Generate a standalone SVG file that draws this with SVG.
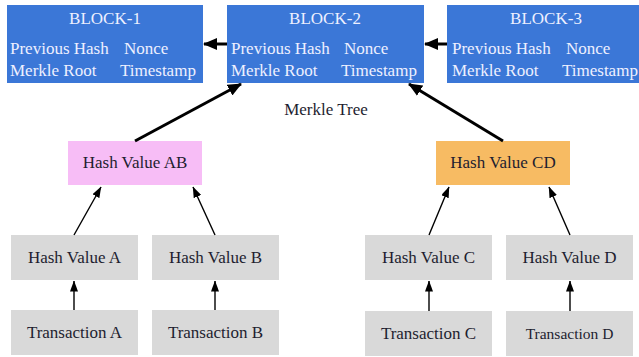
<svg xmlns="http://www.w3.org/2000/svg" width="639" height="357" viewBox="0 0 639 357">
<defs>
<style>
.blk{fill:#3b77d7}
.bt{font-family:"Liberation Serif","Times New Roman",serif;font-size:17px;fill:#eef0ff}
.t{font-family:"Liberation Serif","Times New Roman",serif;font-size:17px;fill:#1e1e30}
.g{fill:#d9d9d9}
.thick{stroke:#000;stroke-width:3;fill:none}
.thin{stroke:#000;stroke-width:1.4;fill:none}
</style>
<marker id="ah" markerUnits="userSpaceOnUse" markerWidth="14" markerHeight="12" refX="13" refY="6" orient="auto">
<path d="M0,0 L14,6 L0,12 Z" fill="#000"/>
</marker>
<marker id="as" markerUnits="userSpaceOnUse" markerWidth="11" markerHeight="8" refX="10.5" refY="4" orient="auto">
<path d="M0,0 L11,4 L0,8 Z" fill="#000"/>
</marker>
</defs>
<rect width="639" height="357" fill="#fff"/>
<g id="block1">
<rect class="blk" x="7" y="5" width="196" height="78"/>
<text class="bt" x="105" y="24" text-anchor="middle">BLOCK-1</text>
<text class="bt" x="10" y="54">Previous Hash</text>
<text class="bt" x="124" y="54">Nonce</text>
<text class="bt" x="10" y="76">Merkle Root</text>
<text class="bt" x="120" y="76">Timestamp</text>
</g>
<g id="block2">
<rect class="blk" x="227" y="5" width="197" height="78"/>
<text class="bt" x="325" y="24" text-anchor="middle">BLOCK-2</text>
<text class="bt" x="231" y="54">Previous Hash</text>
<text class="bt" x="344" y="54">Nonce</text>
<text class="bt" x="231" y="76">Merkle Root</text>
<text class="bt" x="341" y="76">Timestamp</text>
</g>
<g id="block3">
<rect class="blk" x="447" y="5" width="197" height="78"/>
<text class="bt" x="546" y="24" text-anchor="middle">BLOCK-3</text>
<text class="bt" x="452" y="54">Previous Hash</text>
<text class="bt" x="566" y="54">Nonce</text>
<text class="bt" x="452" y="76">Merkle Root</text>
<text class="bt" x="562" y="76">Timestamp</text>
</g>
<text id="merkle-label" class="t" x="326" y="115" text-anchor="middle">Merkle Tree</text>
<g id="hashAB">
<rect x="68" y="141" width="134" height="44" fill="#f7bdf6"/>
<text class="t" x="135" y="168" text-anchor="middle">Hash Value AB</text>
</g>
<g id="hashCD">
<rect x="436" y="141" width="134" height="44" fill="#f7bb63"/>
<text class="t" x="503" y="168" text-anchor="middle">Hash Value CD</text>
</g>
<g id="hashA">
<rect class="g" x="11" y="235" width="127" height="45"/>
<text class="t" x="74.5" y="263" text-anchor="middle">Hash Value A</text>
</g>
<g id="hashB">
<rect class="g" x="152" y="235" width="127" height="45"/>
<text class="t" x="215.5" y="263" text-anchor="middle">Hash Value B</text>
</g>
<g id="hashC">
<rect class="g" x="365" y="235" width="127" height="45"/>
<text class="t" x="428.5" y="263" text-anchor="middle">Hash Value C</text>
</g>
<g id="hashD">
<rect class="g" x="506" y="235" width="127" height="45"/>
<text class="t" x="569.5" y="263" text-anchor="middle">Hash Value D</text>
</g>
<g id="txA">
<rect class="g" x="11" y="310" width="127" height="45"/>
<text class="t" x="74.5" y="338" text-anchor="middle">Transaction A</text>
</g>
<g id="txB">
<rect class="g" x="152" y="310" width="127" height="45"/>
<text class="t" x="215.5" y="338" text-anchor="middle">Transaction B</text>
</g>
<g id="txC">
<rect class="g" x="365" y="311" width="127" height="45"/>
<text class="t" x="428.5" y="339" text-anchor="middle">Transaction C</text>
</g>
<g id="txD">
<rect class="g" x="506" y="311" width="127" height="45"/>
<text class="t" x="569.5" y="339" text-anchor="middle" style="font-size:15.5px">Transaction D</text>
</g>
<g id="connectors">
<line class="thick" x1="227" y1="44" x2="204" y2="44" marker-end="url(#ah)"/>
<line class="thick" x1="447" y1="44" x2="425" y2="44" marker-end="url(#ah)"/>
<line class="thick" x1="135" y1="141" x2="241" y2="84" marker-end="url(#ah)"/>
<line class="thick" x1="503" y1="141" x2="409" y2="84" marker-end="url(#ah)"/>
<line class="thin" x1="74" y1="235" x2="101" y2="187" marker-end="url(#as)"/>
<line class="thin" x1="215" y1="235" x2="193" y2="187" marker-end="url(#as)"/>
<line class="thin" x1="429" y1="235" x2="449" y2="187" marker-end="url(#as)"/>
<line class="thin" x1="570" y1="235" x2="549" y2="187" marker-end="url(#as)"/>
<line class="thin" x1="74" y1="310" x2="74" y2="281" marker-end="url(#as)"/>
<line class="thin" x1="215" y1="310" x2="215" y2="281" marker-end="url(#as)"/>
<line class="thin" x1="429" y1="311" x2="429" y2="281" marker-end="url(#as)"/>
<line class="thin" x1="570" y1="311" x2="570" y2="281" marker-end="url(#as)"/>
</g>
</svg>
